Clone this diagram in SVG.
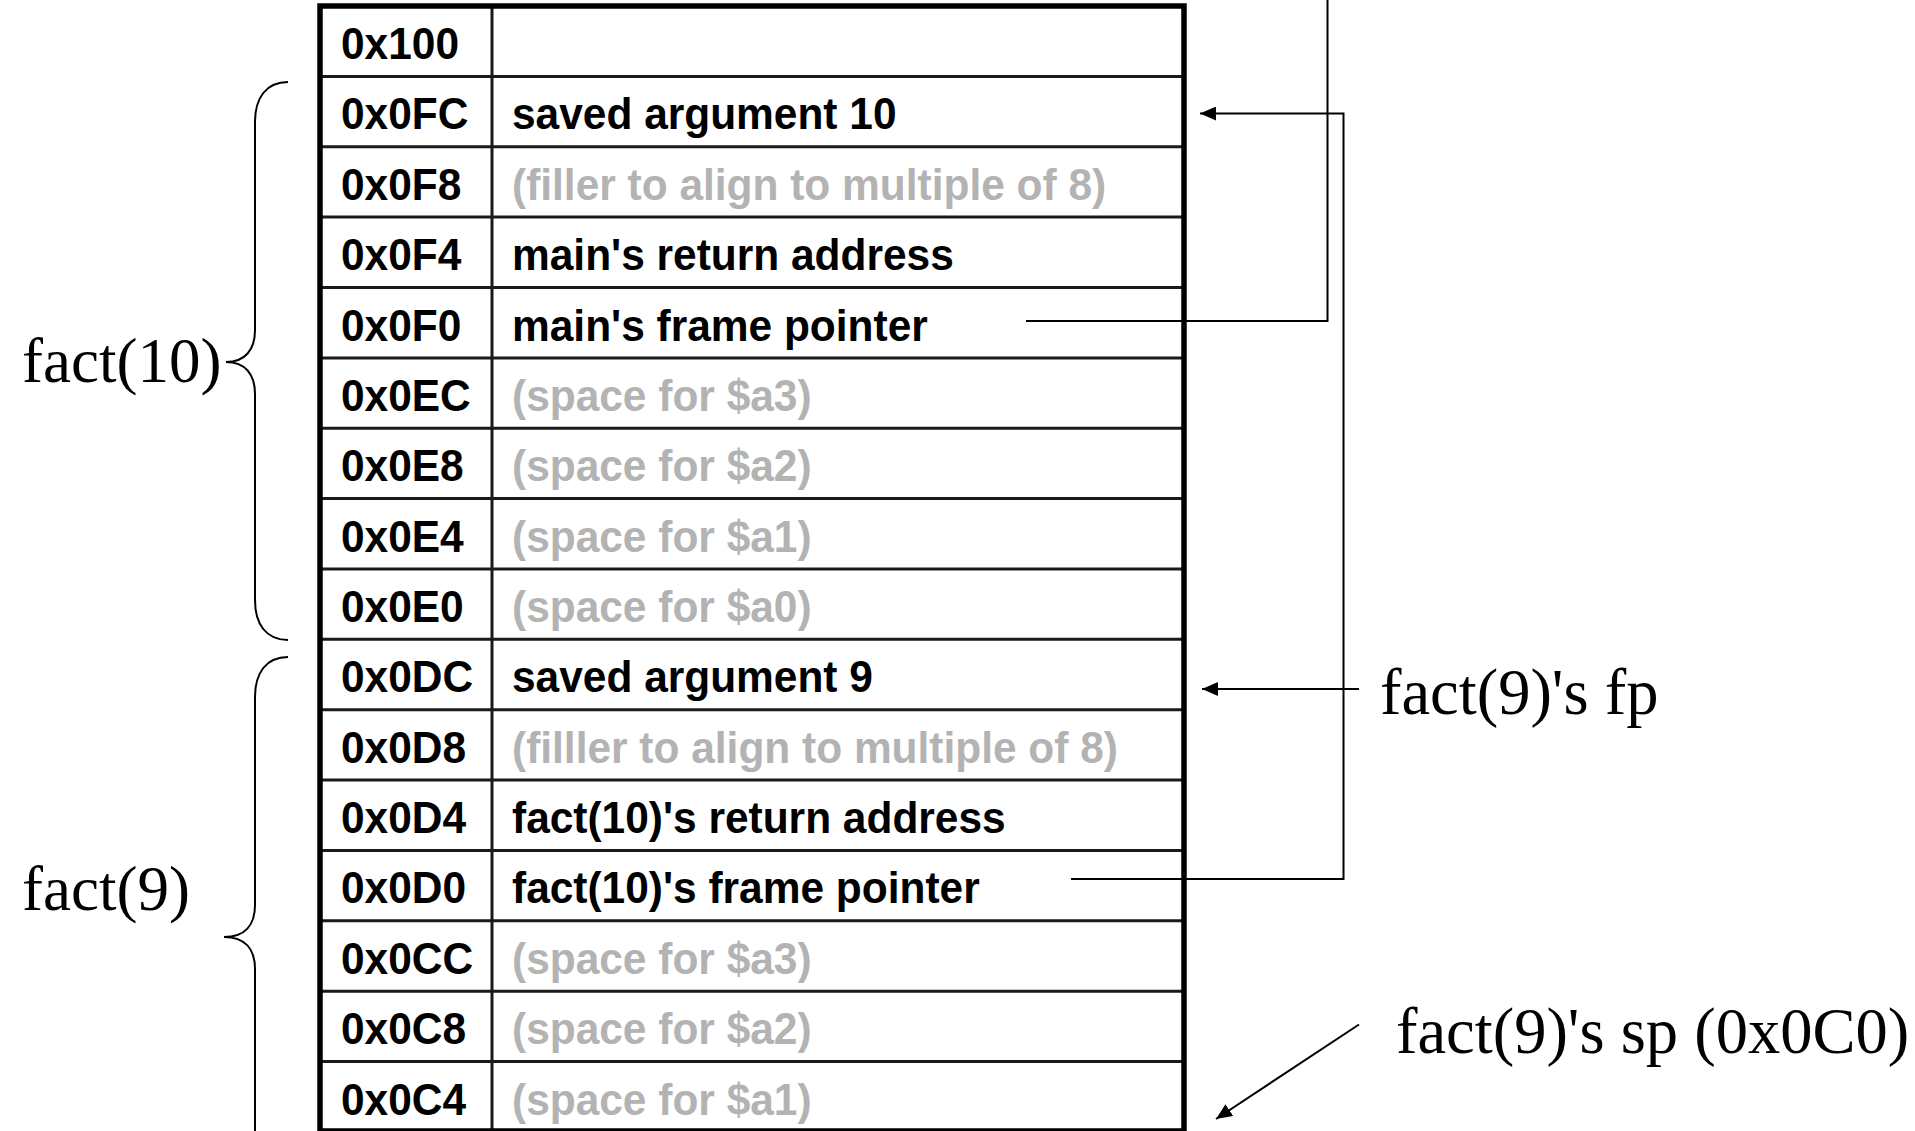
<svg xmlns="http://www.w3.org/2000/svg" width="1915" height="1131" viewBox="0 0 1915 1131">
  <style>
    .addr { font-family: "Liberation Sans", Arial, sans-serif; font-weight: bold; font-size: 44px; fill: #000; }
    .val { font-family: "Liberation Sans", Arial, sans-serif; font-weight: bold; font-size: 44px; fill: #000; }
    .val.pad { fill: #b3b3b3; }
    .cap { font-family: "Liberation Serif", "Times New Roman", serif; font-size: 63px; fill: #000; }
    .cap.right { font-size: 64.5px; }
    .rowline { stroke: #1a1a1a; stroke-width: 3; }
    .frame { fill: none; stroke: #000; stroke-width: 5.5; }
    .brace { fill: none; stroke: #000; stroke-width: 2; }
    .link { fill: none; stroke: #000; stroke-width: 2; }
  </style>
  <defs>
    <marker id="head" viewBox="0 0 16 14" refX="16" refY="7" markerWidth="16" markerHeight="14" markerUnits="userSpaceOnUse" orient="auto">
      <path d="M0,0 L16,7 L0,14 z" fill="#000"/>
    </marker>
  </defs>

  <rect width="1915" height="1131" fill="#fff"/>

  <!-- stack table grid -->
  <g id="stack-grid">
    <line class="rowline" x1="320" y1="76.4" x2="1184" y2="76.4"/>
    <line class="rowline" x1="320" y1="146.7" x2="1184" y2="146.7"/>
    <line class="rowline" x1="320" y1="217.1" x2="1184" y2="217.1"/>
    <line class="rowline" x1="320" y1="287.5" x2="1184" y2="287.5"/>
    <line class="rowline" x1="320" y1="357.9" x2="1184" y2="357.9"/>
    <line class="rowline" x1="320" y1="428.2" x2="1184" y2="428.2"/>
    <line class="rowline" x1="320" y1="498.6" x2="1184" y2="498.6"/>
    <line class="rowline" x1="320" y1="569" x2="1184" y2="569"/>
    <line class="rowline" x1="320" y1="639.3" x2="1184" y2="639.3"/>
    <line class="rowline" x1="320" y1="709.7" x2="1184" y2="709.7"/>
    <line class="rowline" x1="320" y1="780.1" x2="1184" y2="780.1"/>
    <line class="rowline" x1="320" y1="850.4" x2="1184" y2="850.4"/>
    <line class="rowline" x1="320" y1="920.8" x2="1184" y2="920.8"/>
    <line class="rowline" x1="320" y1="991.2" x2="1184" y2="991.2"/>
    <line class="rowline" x1="320" y1="1061.6" x2="1184" y2="1061.6"/>
    <line class="rowline" x1="492" y1="6" x2="492" y2="1131"/>
    <path class="frame" d="M320,1131 L320,6 L1184,6 L1184,1131 M320,1131 L1184,1131"/>
  </g>

  <!-- stack slots: address column drawn slightly condensed -->
  <g id="slot-0x100" transform="translate(341 0) scale(0.965 1)"><text class="addr" x="0" y="59">0x100</text></g>
  <g id="slot-0x0FC">
    <text class="addr" transform="translate(341 129.4) scale(0.965 1)">0x0FC</text>
    <text class="val" transform="translate(512 129.4) scale(0.965 1)">saved argument 10</text>
  </g>
  <g id="slot-0x0F8">
    <text class="addr" transform="translate(341 199.7) scale(0.965 1)">0x0F8</text>
    <text class="val pad" transform="translate(512 199.7) scale(0.965 1)">(filler to align to multiple of 8)</text>
  </g>
  <g id="slot-0x0F4">
    <text class="addr" transform="translate(341 270.1) scale(0.965 1)">0x0F4</text>
    <text class="val" transform="translate(512 270.1) scale(0.965 1)">main's return address</text>
  </g>
  <g id="slot-0x0F0">
    <text class="addr" transform="translate(341 340.5) scale(0.965 1)">0x0F0</text>
    <text class="val" transform="translate(512 340.5) scale(0.965 1)">main's frame pointer</text>
  </g>
  <g id="slot-0x0EC">
    <text class="addr" transform="translate(341 410.9) scale(0.965 1)">0x0EC</text>
    <text class="val pad" transform="translate(512 410.9) scale(0.965 1)">(space for $a3)</text>
  </g>
  <g id="slot-0x0E8">
    <text class="addr" transform="translate(341 481.2) scale(0.965 1)">0x0E8</text>
    <text class="val pad" transform="translate(512 481.2) scale(0.965 1)">(space for $a2)</text>
  </g>
  <g id="slot-0x0E4">
    <text class="addr" transform="translate(341 551.6) scale(0.965 1)">0x0E4</text>
    <text class="val pad" transform="translate(512 551.6) scale(0.965 1)">(space for $a1)</text>
  </g>
  <g id="slot-0x0E0">
    <text class="addr" transform="translate(341 622) scale(0.965 1)">0x0E0</text>
    <text class="val pad" transform="translate(512 622) scale(0.965 1)">(space for $a0)</text>
  </g>
  <g id="slot-0x0DC">
    <text class="addr" transform="translate(341 692.3) scale(0.965 1)">0x0DC</text>
    <text class="val" transform="translate(512 692.3) scale(0.965 1)">saved argument 9</text>
  </g>
  <g id="slot-0x0D8">
    <text class="addr" transform="translate(341 762.7) scale(0.965 1)">0x0D8</text>
    <text class="val pad" transform="translate(512 762.7) scale(0.965 1)">(filller to align to multiple of 8)</text>
  </g>
  <g id="slot-0x0D4">
    <text class="addr" transform="translate(341 833.1) scale(0.965 1)">0x0D4</text>
    <text class="val" transform="translate(512 833.1) scale(0.965 1)">fact(10)'s return address</text>
  </g>
  <g id="slot-0x0D0">
    <text class="addr" transform="translate(341 903.4) scale(0.965 1)">0x0D0</text>
    <text class="val" transform="translate(512 903.4) scale(0.965 1)">fact(10)'s frame pointer</text>
  </g>
  <g id="slot-0x0CC">
    <text class="addr" transform="translate(341 973.8) scale(0.965 1)">0x0CC</text>
    <text class="val pad" transform="translate(512 973.8) scale(0.965 1)">(space for $a3)</text>
  </g>
  <g id="slot-0x0C8">
    <text class="addr" transform="translate(341 1044.2) scale(0.965 1)">0x0C8</text>
    <text class="val pad" transform="translate(512 1044.2) scale(0.965 1)">(space for $a2)</text>
  </g>
  <g id="slot-0x0C4">
    <text class="addr" transform="translate(341 1114.6) scale(0.965 1)">0x0C4</text>
    <text class="val pad" transform="translate(512 1114.6) scale(0.965 1)">(space for $a1)</text>
  </g>

  <!-- frame braces -->
  <g id="frame-fact10">
    <path class="brace" d="M288,82 C266,82 255,98 255,122 L255,330 C255,350 245,362 226,362 C245,362 255,374 255,394 L255,600 C255,624 266,640 288,640"/>
    <text class="cap" x="22" y="381.5">fact(10)</text>
  </g>
  <g id="frame-fact9">
    <path class="brace" d="M288,657 C266,657 255,673 255,697 L255,905 C255,925 245,937 224,937 C245,937 255,949 255,969 L255,1131"/>
    <text class="cap" x="22" y="910">fact(9)</text>
  </g>

  <!-- pointer labels -->
  <g id="label-fp"><text class="cap right" x="1380" y="714">fact(9)'s fp</text></g>
  <g id="label-sp"><text class="cap right" x="1396" y="1053">fact(9)'s sp (0x0C0)</text></g>

  <!-- connectors -->
  <g id="connectors">
    <polyline class="link" points="1026,321 1327.5,321 1327.5,0"/>
    <polyline class="link" points="1071,879 1343.5,879 1343.5,113.5 1200,113.5" marker-end="url(#head)"/>
    <line class="link" x1="1359" y1="689" x2="1202" y2="689" marker-end="url(#head)"/>
    <line class="link" x1="1359" y1="1024.5" x2="1216" y2="1119" marker-end="url(#head)"/>
  </g>
</svg>
